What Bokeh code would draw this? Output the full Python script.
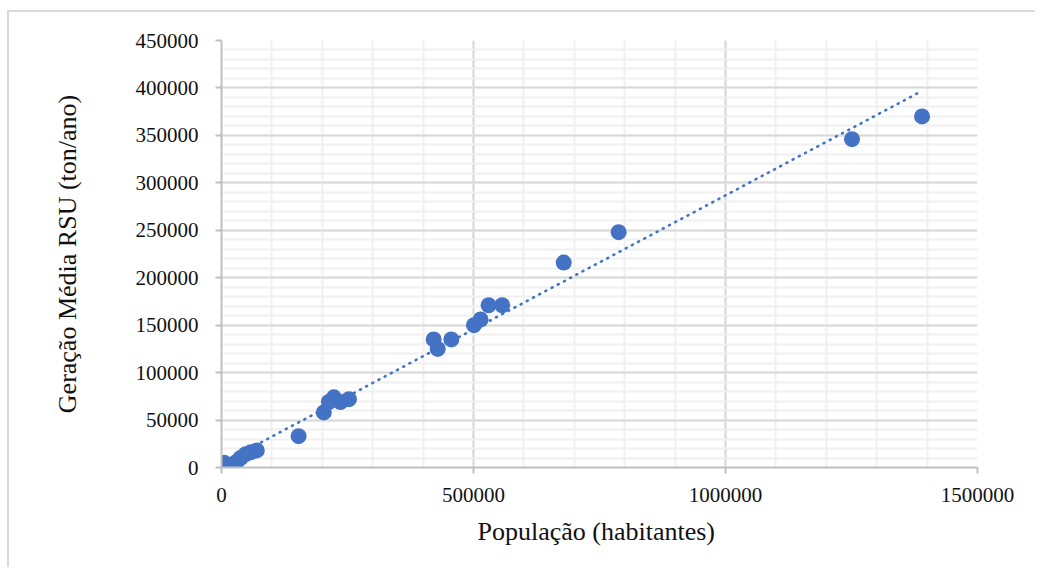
import numpy as np
from bokeh.plotting import figure
from bokeh.models import Range1d, SingleIntervalTicker, BasicTickFormatter
from bokeh.embed import file_html
from bokeh.resources import INLINE

# Data
populacao = [5000, 10000, 18000, 30000, 38000, 48000, 58000, 70000,
             153000, 203000, 213000, 223000, 236000, 253000,
             421000, 429000, 456000, 501000, 514000, 530000, 557000,
             679000, 788000, 1251000, 1390000]
geracao = [5000, 1000, 3000, 6000, 10000, 14000, 16000, 18000,
           33000, 58000, 69000, 74000, 69000, 72000,
           135000, 125000, 135000, 150000, 156000, 171000, 171000,
           216000, 248000, 346000, 370000]

x_title = "População  (habitantes)"
y_title = "Geração Média RSU (ton/ano)"

BLUE = "#4472C4"
FONT = "Liberation Serif"

p = figure(width=1026, height=555, output_backend="svg", toolbar_location=None,
           x_range=Range1d(0, 1500000), y_range=Range1d(0, 450000),
           frame_width=756, frame_height=427,
           min_border_left=212, min_border_top=28, min_border_right=58, min_border_bottom=100,
           styles={"border-left": "2px solid #d9d9d9", "border-top": "2px solid #d9d9d9",
                   "margin-left": "7px", "margin-top": "10px"})
p.outline_line_color = None
p.background_fill_color = "white"
p.border_fill_color = "white"

p.xaxis.ticker = SingleIntervalTicker(interval=500000, num_minor_ticks=5)
p.yaxis.ticker = SingleIntervalTicker(interval=50000, num_minor_ticks=5)
for ax in (p.xaxis[0], p.yaxis[0]):
    ax.formatter = BasicTickFormatter(use_scientific=False)
    ax.axis_line_color = "#bfbfbf"
    ax.axis_line_width = 2
    ax.major_tick_line_color = "#bfbfbf"
    ax.major_tick_line_width = 2
    ax.major_tick_in = 0
    ax.major_tick_out = 6
    ax.minor_tick_line_color = None
    ax.major_label_text_font = FONT
    ax.major_label_text_font_size = "21px"
    ax.major_label_text_color = "#111111"
    ax.axis_label_text_font = FONT
    ax.axis_label_text_font_size = "26px"
    ax.axis_label_text_font_style = "normal"
    ax.axis_label_text_color = "#111111"

p.xaxis.axis_label = x_title
p.yaxis.axis_label = y_title
p.xaxis.major_label_standoff = 14
p.yaxis.major_label_standoff = 17
p.xaxis.axis_label_standoff = 12
p.yaxis.axis_label_standoff = 51

for g in (p.xgrid[0], p.ygrid[0]):
    g.grid_line_color = "#d9d9d9"
    g.grid_line_width = 2
    g.minor_grid_line_color = "#f0f0f0"
    g.minor_grid_line_width = 2

# Linear trend line (least squares fit on the data)
xs = np.array(populacao, dtype=float)
ys = np.array(geracao, dtype=float)
m, b = np.polyfit(xs, ys, 1)
tx = [xs.min(), xs.max()]
ty = [m * t + b for t in tx]
p.line(tx, ty, line_color=BLUE, line_width=2.6, line_dash="1 6", line_cap="round")

p.scatter(populacao, geracao, size=16, fill_color=BLUE, line_color=None)

open("out.html", "w").write(file_html(p, INLINE))
